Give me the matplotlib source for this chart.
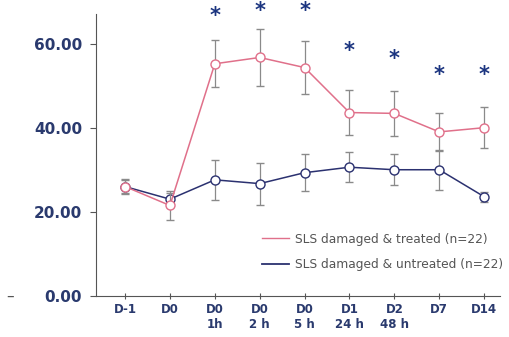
import numpy as np
import matplotlib.pyplot as plt
from matplotlib.lines import Line2D

labels = ['D-1', 'D0', 'D0\n1h', 'D0\n2 h', 'D0\n5 h', 'D1\n24 h', 'D2\n48 h', 'D7', 'D14']
treated = [26.0, 21.5, 55.2, 56.7, 54.3, 43.6, 43.4, 39.0, 40.0]
treated_err = [1.8, 3.5, 5.6, 6.8, 6.4, 5.4, 5.4, 4.6, 4.9]
untreated = [26.0, 23.0, 27.6, 26.7, 29.3, 30.6, 30.0, 30.0, 23.6]
untreated_err = [1.5, 1.5, 4.8, 5.0, 4.4, 3.5, 3.7, 4.8, 1.2]
star_y = [67.4, 68.6, 68.6, 59.0, 57.1, 53.3, 53.3]
star_idx = [2, 3, 4, 5, 6, 7, 8]

pink = '#e0708a'
navy = '#2b3170'
lab_col = '#2a3a6e'

fig = plt.figure(figsize=(5.1, 3.37), dpi=100)
ax = fig.add_axes([0.188, 0.122, 0.792, 0.836])
x = np.arange(len(labels))

ax.errorbar(x, untreated, yerr=untreated_err, color=navy, lw=1.1,
            ecolor='#8a8a8a', elinewidth=0.9, capsize=3, marker='o',
            ms=6.5, mfc='white', mec=navy, mew=1.0, zorder=3)
ax.errorbar(x, treated, yerr=treated_err, color=pink, lw=1.1,
            ecolor='#8a8a8a', elinewidth=0.9, capsize=3, marker='o',
            ms=6.5, mfc='white', mec=pink, mew=1.0, zorder=4)

# asterisk glyph sits high in its box, so shift it down a bit
for i, y in zip(star_idx, star_y):
    ax.text(i, y - 0.8, '*', color='#1c3580', fontsize=15, fontweight='bold',
            ha='center', va='center', clip_on=False)

ax.set_xlim(-0.65, 8.35)
ax.set_ylim(0, 67)
ax.set_yticks([0, 20, 40, 60])
ax.set_yticklabels(['0.00', '20.00', '40.00', '60.00'])
ax.set_xticks(x)
ax.set_xticklabels(labels)
for t in ax.get_yticklabels():
    t.set_color(lab_col)
    t.set_fontsize(11)
    t.set_fontweight('bold')
for t in ax.get_xticklabels():
    t.set_color(lab_col)
    t.set_fontsize(8.5)
    t.set_fontweight('bold')
ax.tick_params(axis='y', length=4, color='#555555', pad=6)
ax.tick_params(axis='x', length=4, color='#555555', direction='inout', pad=3)
ax.spines['top'].set_visible(False)
ax.spines['right'].set_visible(False)
ax.spines['left'].set_color('#555555')
ax.spines['bottom'].set_color('#555555')

h = [Line2D([], [], color=pink, lw=1.0), Line2D([], [], color=navy, lw=1.3)]
ax.legend(h, ['SLS damaged & treated (n=22)', 'SLS damaged & untreated (n=22)'],
          loc='lower right', bbox_to_anchor=(1.035, 0.05), frameon=False,
          fontsize=8.8, handlelength=2.2, handletextpad=0.5, labelspacing=1.0,
          labelcolor='#555555')

fig.text(0.012, 0.122, '–', color='#555555', fontsize=11, va='center')

fig.savefig('out.png', dpi=100)
